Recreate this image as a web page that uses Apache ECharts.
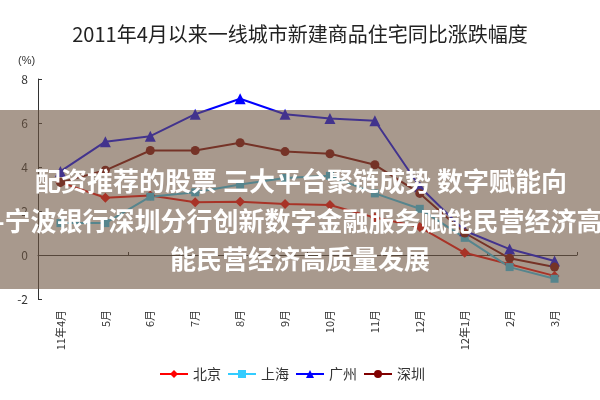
<!DOCTYPE html>
<html><head><meta charset="utf-8">
<script src="https://cdn.jsdelivr.net/npm/echarts@6/dist/echarts.min.js"></script>
<style>html,body{margin:0;padding:0;background:#fff}#c{width:600px;height:400px}</style>
</head><body><div id="c"></div>
<script>
const titleText = '2011年4月以来一线城市新建商品住宅同比涨跌幅度';
const categories = ['11年4月','5月','6月','7月','8月','9月','10月','11月','12月','12年1月','2月','3月'];
const beijing  = [3.3, 2.6, 2.7, 2.4, 2.42, 2.32, 2.27, 1.7, 1.27, 0.1, -0.42, -0.95];
const shanghai = [1.45, 1.45, 2.65, 2.85, 3.2, 3.5, 3.6, 2.8, 2.1, 0.78, -0.55, -1.08];
const guangzhou= [3.8, 5.15, 5.4, 6.4, 7.1, 6.4, 6.2, 6.1, 3.1, 1.1, 0.27, -0.27];
const shenzhen = [3.3, 3.85, 4.75, 4.75, 5.1, 4.7, 4.6, 4.1, 2.8, 1.0, -0.15, -0.55];
const seriesNames = ['北京','上海','广州','深圳'];
const yTicks = {min: -2, max: 8, interval: 2};
const overlayLines = ['配资推荐的股票 三大平台聚链成势 数字赋能向', '-宁波银行深圳分行创新数字金融服务赋能民营经济高', '能民营经济高质量发展'];

const font = '"Noto Sans CJK SC", "Noto Sans", sans-serif';
const chart = echarts.init(document.getElementById('c'), null, {renderer: 'canvas'});
function s(name, data, color, symbol, size) {
  return {name, type: 'line', data, xAxisIndex: 0, symbol, symbolSize: size,
    lineStyle: {color, width: 2}, itemStyle: {color}, animation: false};
}
chart.setOption({
  animation: false,
  textStyle: {fontFamily: font},
  title: {text: titleText, left: 'center', top: 19,
    textStyle: {fontSize: 20, fontWeight: 'normal', color: '#222', fontFamily: font}},
  grid: {left: 38, right: 23, top: 79, bottom: 101},
  legend: {data: seriesNames, left: 154, top: 362, itemWidth: 28, itemHeight: 10, itemGap: 6,
    textStyle: {fontSize: 14, color: '#333', fontFamily: font}},
  xAxis: [
    {type: 'category', data: categories, boundaryGap: true, position: 'bottom',
     axisLine: {onZero: true, lineStyle: {color: '#333', width: 1}},
     axisTick: {show: true, inside: true, length: 3, lineStyle: {color: '#333'}},
     axisLabel: {show: false}, splitLine: {show: false}},
    {type: 'category', data: categories, boundaryGap: true, position: 'bottom',
     axisLine: {show: false, onZero: false}, axisTick: {show: false},
     axisLabel: {rotate: 90, margin: 11, fontSize: 11, color: '#333', fontFamily: font},
     splitLine: {show: false}}
  ],
  yAxis: {type: 'value', min: yTicks.min, max: yTicks.max, interval: yTicks.interval,
    axisLine: {show: true, lineStyle: {color: '#333'}},
    axisTick: {show: true, inside: true, length: 4, lineStyle: {color: '#333'}},
    axisLabel: {fontSize: 12, color: '#333', margin: 10},
    splitLine: {show: false}},
  graphic: [
    {type: 'text', left: 18, top: 55, z: 5, style: {text: '(%)', fontSize: 11, fill: '#333', font: '11px ' + font}},
    {type: 'rect', shape: {x: 0, y: 110, width: 600, height: 179}, z: 100,
     style: {fill: 'rgba(110,85,65,0.6)'}},
    {type: 'text', z: 101, x: 301, y: 181, style: {text: overlayLines[0], fill: '#fff',
      font: 'bold 26px ' + font, textAlign: 'center', textVerticalAlign: 'middle'}},
    {type: 'text', z: 101, x: -5, y: 221, style: {text: overlayLines[1], fill: '#fff',
      font: 'bold 26px ' + font, textAlign: 'left', textVerticalAlign: 'middle'}},
    {type: 'text', z: 101, x: 300, y: 259, style: {text: overlayLines[2], fill: '#fff',
      font: 'bold 26px ' + font, textAlign: 'center', textVerticalAlign: 'middle'}}
  ],
  series: [
    s(seriesNames[0], beijing, '#ff0000', 'diamond', 10),
    s(seriesNames[1], shanghai, '#33ccff', 'rect', 8),
    s(seriesNames[2], guangzhou, '#0000ff', 'triangle', 11),
    s(seriesNames[3], shenzhen, '#800000', 'circle', 9)
  ]
});
</script></body></html>
